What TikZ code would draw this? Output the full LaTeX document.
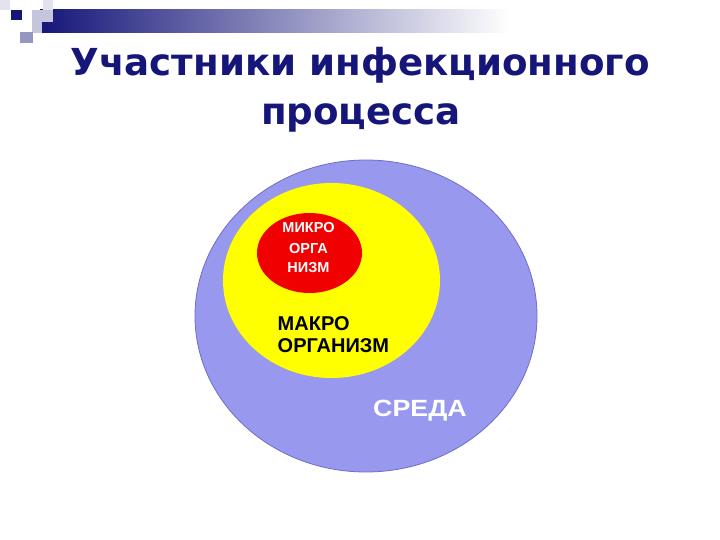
\documentclass[tikz,border=0pt]{standalone}
\usepackage{fontspec}
\setmainfont{Liberation Sans}
\newfontfamily\titlefont{DejaVu Sans}
\usetikzlibrary{shapes.geometric}
\definecolor{navy}{RGB}{22,22,122}
\definecolor{envblue}{RGB}{152,152,238}
\definecolor{envedge}{RGB}{110,110,200}
\definecolor{macroyel}{RGB}{255,255,0}
\definecolor{microred}{RGB}{240,0,0}
\tikzset{
  blob/.style={ellipse, inner sep=0pt, outer sep=0pt},
  lbl/.style={anchor=base, inner sep=0pt, font=\bfseries\fontsize{14.5}{14.5}\selectfont, text=white},
  maclbl/.style={anchor=base west, inner sep=0pt, font=\bfseries\fontsize{20}{20}\selectfont},
  ttl/.style={anchor=base, inner sep=0pt, text=navy, font=\titlefont\bfseries\fontsize{37.2}{37.2}\selectfont}
}
\begin{document}
\begin{tikzpicture}[x=1pt,y=-1pt]
\useasboundingbox (0,0) rectangle (720,540);
\fill[white] (0,0) rectangle (720,540);
% decoration
\shade[left color=navy, right color=white] (40,10) rectangle (510,33);
\fill[navy!25] (32,10) rectangle (42,33);
\fill[navy!12] (0,0) rectangle (10,10);
\fill[navy!12] (43,0) rectangle (53,10);
\fill[navy!25] (32,10) rectangle (53,22);
\fill[navy!45] (20,32) rectangle (33,43);
\fill[navy] (11,10) rectangle (22,20);
% title
\node[ttl] (t1) at (360,76) {Участники инфекционного};
\node[ttl] (t2) at (361,125) {процесса};
% circles
\node[blob, fill=envblue, draw=envedge, line width=0.8pt, minimum width=342pt, minimum height=312pt] (env) at (366,316) {};
\node[blob, fill=macroyel, minimum width=217pt, minimum height=195pt] (macro) at (331.5,280.5) {};
\node[blob, fill=microred, minimum width=105pt, minimum height=80pt] (micro) at (309.5,253) {};
% labels
\node[lbl] (m1) at (308.5,233) {МИКРО};
\node[lbl] (m2) at (308.5,253) {ОРГА};
\node[lbl] (m3) at (308.5,272) {НИЗМ};
\node[maclbl] (ma1) at (277.5,330) {МАКРО};
\node[maclbl] (ma2) at (277.5,352) {ОРГАНИЗМ};
\node[anchor=base west, inner sep=0pt, text=white, font=\bfseries\fontsize{23.5}{23.5}\selectfont] (sr) at (373,416.5) {\scalebox{1.14}[1]{СРЕДА}};
\end{tikzpicture}
\end{document}
